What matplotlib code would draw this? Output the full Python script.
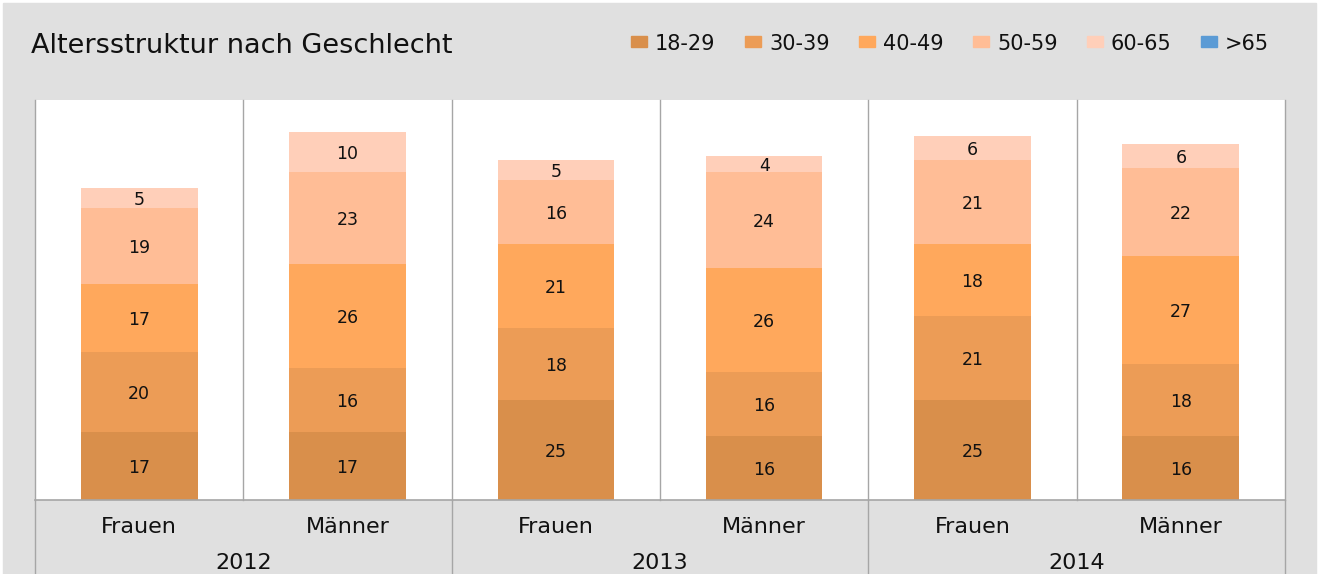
import matplotlib
matplotlib.use("Agg")
import matplotlib.pyplot as plt
from matplotlib.patches import Rectangle
import numpy as np

plt.rcParams['font.family'] = ['DejaVu Sans']

# ─── data ────────────────────────────────────────────────────────────────
years = ["2012", "2013", "2014"]
genders = ["Frauen", "Männer"]
series = ["18-29", "30-39", "40-49", "50-59", "60-65", ">65"]
v_18_29 = [17, 17, 25, 16, 25, 16]
v_30_39 = [20, 16, 18, 16, 21, 18]
v_40_49 = [17, 26, 21, 26, 18, 27]
v_50_59 = [19, 23, 16, 24, 21, 22]
v_60_65 = [5, 10, 5, 4, 6, 6]
v_65 = [0, 0, 0, 0, 0, 0]
colors = ["#D98F4B", "#EC9C56", "#FFA85C", "#FFBD96", "#FFCFB9", "#5B9BD5"]

W, H = 1319, 574
BG = "#E0E0E0"
LINE = "#A6A6A6"
TXT = "#111111"

fig = plt.figure(figsize=(W / 100, H / 100), dpi=100, facecolor="white")
fig.patches.append(Rectangle((3 / W, 0), (1316 - 3) / W, (H - 3) / H,
                             transform=fig.transFigure, color=BG, zorder=-10))

# plot area
x0, x1, ytop, ybot = 35, 1285, 100, 500
ax = fig.add_axes([x0 / W, (H - ybot) / H, (x1 - x0) / W, (ybot - ytop) / H])
ax.set_zorder(1)
ax.set_facecolor("white")
ax.set_xlim(-0.5, 5.5)
ax.set_ylim(0, 100)
for s in ax.spines.values():
    s.set_visible(False)
ax.set_xticks([])
ax.set_yticks([])

xs = np.arange(6)
data = [v_18_29, v_30_39, v_40_49, v_50_59, v_60_65, v_65]
bottom = np.zeros(6)
for vals, col in zip(data, colors):
    vals = np.array(vals, dtype=float)
    ax.bar(xs, vals, bottom=bottom, width=0.56, color=col, zorder=2)
    for x, b, v in zip(xs, bottom, vals):
        if v > 0:
            ax.text(x, b + v / 2 - 0.4, f"{int(v)}", ha="center", va="center",
                    fontsize=12.5, color=TXT, zorder=3)
    bottom += vals

# category separators inside plot area
for b in np.arange(-0.5, 6.0, 1.0):
    ax.plot([b, b], [0, 100], color=LINE, lw=1, zorder=1, clip_on=False)
ax.plot([-0.5, 5.5], [0, 0], color=LINE, lw=1.2, zorder=4, clip_on=False)

# year separators extending below axis
y_below = -(H - ybot) / 4.0
for b in np.arange(-0.5, 6.0, 2.0):
    ax.plot([b, b], [0, y_below], color=LINE, lw=1, clip_on=False)

# two-level category labels
for i, x in enumerate(xs):
    ax.text(x, -8.3, genders[i % 2], ha="center", va="baseline", fontsize=16, color=TXT)
for j, yr in enumerate(years):
    ax.text(2 * j + 0.5, -17.2, yr, ha="center", va="baseline", fontsize=16, color=TXT)

# title
fig.text(31 / W, 1 - 53 / H, "Altersstruktur nach Geschlecht", ha="left", va="baseline",
         fontsize=19.5, color=TXT)

# legend
leg_x = [631, 745, 859, 973, 1087, 1201]
for lx, name, col in zip(leg_x, series, colors):
    fig.patches.append(Rectangle((lx / W, 1 - 47 / H), 16 / W, 11 / H,
                                 transform=fig.transFigure, color=col, zorder=2))
    fig.text((lx + 24) / W, 1 - 50 / H, name, ha="left", va="baseline",
             fontsize=15, color=TXT)

fig.savefig("out.png", dpi=100, facecolor=fig.get_facecolor())
